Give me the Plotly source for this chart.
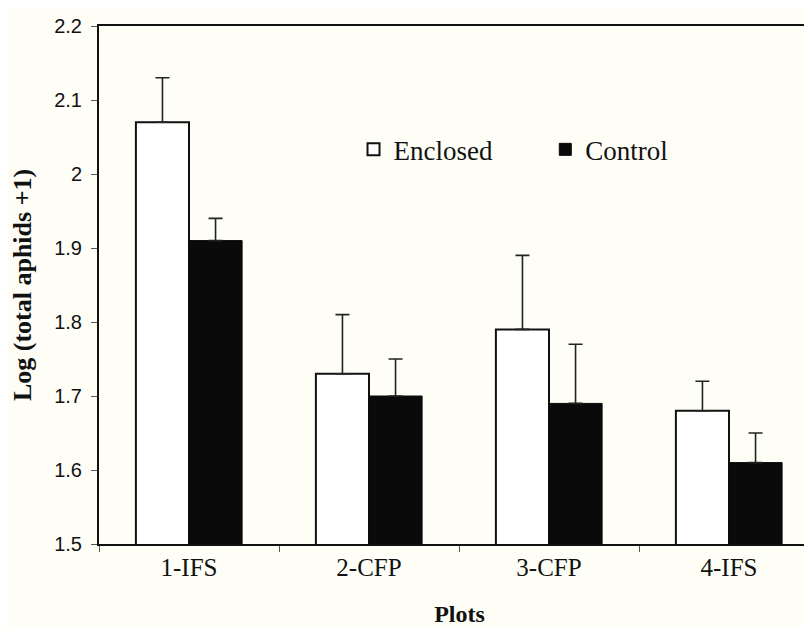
import plotly.graph_objects as go

categories = ["1-IFS", "2-CFP", "3-CFP", "4-IFS"]
enclosed = [2.07, 1.73, 1.79, 1.68]
enclosed_err = [0.06, 0.08, 0.10, 0.04]
control = [1.91, 1.70, 1.69, 1.61]
control_err = [0.03, 0.05, 0.08, 0.04]
y_ticks = [1.5, 1.6, 1.7, 1.8, 1.9, 2.0, 2.1, 2.2]
y_tick_text = ["1.5", "1.6", "1.7", "1.8", "1.9", "2", "2.1", "2.2"]

BG = "#fefef6"
serif = "Liberation Serif, Times New Roman, serif"
sans = "Liberation Sans, Arial, sans-serif"

fig = go.Figure()
fig.add_trace(go.Bar(
    name="Enclosed", x=categories, y=enclosed, legend="legend",
    marker=dict(color="white", line=dict(color="#111", width=2)),
    error_y=dict(type="data", array=enclosed_err, arrayminus=[0]*4, symmetric=False,
                 color="#222", thickness=1.6, width=7),
))
fig.add_trace(go.Bar(
    name="Control", x=categories, y=control, legend="legend2",
    marker=dict(color="#0a0a0a", line=dict(color="#0a0a0a", width=1)),
    error_y=dict(type="data", array=control_err, arrayminus=[0]*4, symmetric=False,
                 color="#222", thickness=1.6, width=7),
))

leg_common = dict(orientation="h", xref="paper", yref="paper",
                  xanchor="left", yanchor="middle", bgcolor="rgba(0,0,0,0)",
                  font=dict(family=serif, size=27, color="#111"), itemwidth=30)

fig.update_layout(
    width=812, height=628,
    margin=dict(l=91, r=0, t=18, b=92),
    paper_bgcolor=BG, plot_bgcolor=BG,
    barmode="group", bargap=0.41, bargroupgap=0,
    showlegend=True,
    legend=dict(x=0.353, y=0.761, **leg_common),
    legend2=dict(x=0.619, y=0.761, **leg_common),
    xaxis=dict(type="category", range=[-0.5, -0.5 + 721 / 180.0],
               showline=True, linecolor="#111", linewidth=2, mirror=True,
               ticks="outside", tickson="boundaries", ticklen=6, tickcolor="#555",
               tickfont=dict(family=serif, size=25, color="#111"),
               showgrid=False, zeroline=False,
               title=dict(text="<b>Plots</b>", font=dict(family=serif, size=24, color="#111"),
                          standoff=25)),
    yaxis=dict(range=[1.5, 2.2], tickvals=y_ticks, ticktext=y_tick_text,
               showline=True, linecolor="#111", linewidth=2, mirror=False,
               ticks="outside", ticklen=6, tickcolor="#555", ticklabelstandoff=5,
               tickfont=dict(family=sans, size=20, color="#111"),
               showgrid=False, zeroline=False,
               title=dict(text="<b>Log (total aphids +1)</b>", font=dict(family=serif, size=26, color="#111"),
                          standoff=20)),
)

fig.write_html("out.html")
